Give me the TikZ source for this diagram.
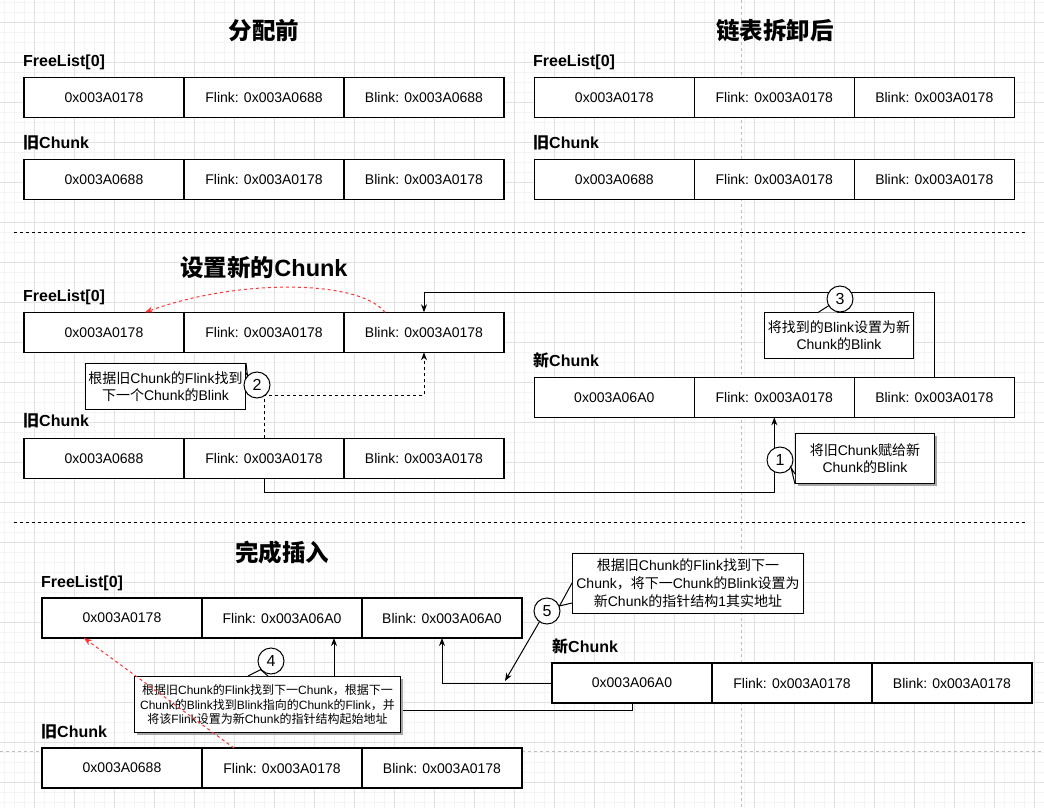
\documentclass[tikz,border=0pt]{standalone}
\usepackage{fontspec}
\setmainfont{Liberation Sans}
\newfontfamily\cjk{Noto Sans CJK SC}
\usetikzlibrary{arrows.meta,calc,shadows}
\newcommand\zh[1]{{\cjk #1}}
\definecolor{gridminor}{RGB}{244,244,244}
\definecolor{gridmajor}{RGB}{226,226,226}
\definecolor{pagebrk}{RGB}{190,190,190}
\definecolor{redline}{RGB}{255,51,51}
\tikzset{
  cell/.style={draw, line width=1.2pt, fill=white, minimum width=160pt, minimum height=40pt,
    inner sep=0pt, outer sep=0pt, font=\fontsize{14}{16}\selectfont},
  lbl/.style={anchor=west, inner sep=0pt, font=\fontsize{16}{18}\selectfont\bfseries},
  ttl/.style={inner sep=0pt, font=\fontsize{23.5}{26}\selectfont\bfseries},
  conn/.style={line width=1pt, -{Stealth[length=8pt,width=6pt]}},
  dconn/.style={conn, dash pattern=on 3pt off 3pt},
  rconn/.style={conn, draw=redline, dash pattern=on 3pt off 3pt},
  num/.style={circle, draw, line width=1pt, fill=white, minimum size=26pt, inner sep=0pt,
    font=\fontsize{16}{16}\selectfont},
  cbox/.style={draw, line width=1pt, fill=white, anchor=north west, inner sep=0pt,
    align=center, font=\fontsize{14}{17}\selectfont},
  cshadow/.style={drop shadow={shadow xshift=2.5pt, shadow yshift=-2.5pt, fill=gray!70, opacity=1}},
  tail/.style={line width=1pt, fill=white},
  sep/.style={line width=1pt, dash pattern=on 3pt off 3pt},
}
\newcommand\cellrow[6]{%
  \node[cell, anchor=north west] (#1a) at (#2,#3) {#4};
  \node[cell, anchor=west] (#1b) at (#1a.east) {#5};
  \node[cell, anchor=west] (#1c) at (#1b.east) {#6};
}
\begin{document}
\begin{tikzpicture}[x=1pt,y=-1pt]
\useasboundingbox[fill=white] (0,0) rectangle (1044,808);
% grid
\foreach \x in {4.3,14.3,...,1044} \draw[gridminor, line width=0.8pt] (\x,0) -- (\x,808);
\foreach \y in {2.7,12.7,...,808} \draw[gridminor, line width=0.8pt] (0,\y) -- (1044,\y);
\foreach \x in {34.3,74.3,...,1044} \draw[gridmajor, line width=0.8pt] (\x,0) -- (\x,808);
\foreach \y in {22.7,62.7,...,808} \draw[gridmajor, line width=0.8pt] (0,\y) -- (1044,\y);
% page break lines
\draw[pagebrk, line width=0.8pt, dash pattern=on 3pt off 3pt] (741,0) -- (741,808);
\draw[pagebrk, line width=0.8pt, dash pattern=on 3pt off 3pt] (0,751.7) -- (1044,751.7);
% separators
\coordinate (s1l) at (14,232); \coordinate (s1r) at (1026,232);
\coordinate (s2l) at (14,522); \coordinate (s2r) at (1026,522);
\draw[sep] (s1l) -- (s1r);
\draw[sep] (s2l) -- (s2r);

% ===== Section 1 =====
\node[ttl] (t1) at (264,31) {\zh{分配前}};
\node[ttl] (t2) at (775,31) {\zh{链表拆卸后}};
\node[lbl] (l1) at (23,62) {FreeList[0]};
\node[lbl] (l2) at (23,143) {\zh{旧}Chunk};
\node[lbl] (l3) at (533,62) {FreeList[0]};
\node[lbl] (l4) at (533,143) {\zh{旧}Chunk};
\cellrow{fa}{24}{77.3}{0x003A0178}{Flink: 0x003A0688}{Blink: 0x003A0688}
\cellrow{oa}{24}{159.3}{0x003A0688}{Flink: 0x003A0178}{Blink: 0x003A0178}
\cellrow{fb}{534.3}{77.3}{0x003A0178}{Flink: 0x003A0178}{Blink: 0x003A0178}
\cellrow{ob}{534.3}{159.3}{0x003A0688}{Flink: 0x003A0178}{Blink: 0x003A0178}

% ===== Section 2 =====
\node[ttl] (t3) at (264,267) {\zh{设置新的}Chunk};
\node[lbl] (l5) at (23,297) {FreeList[0]};
\node[lbl] (l6) at (23,421) {\zh{旧}Chunk};
\node[lbl] (l7) at (533,360) {\zh{新}Chunk};
\cellrow{fc}{24}{312.3}{0x003A0178}{Flink: 0x003A0178}{Blink: 0x003A0178}
\cellrow{oc}{24}{438.3}{0x003A0688}{Flink: 0x003A0178}{Blink: 0x003A0178}
\cellrow{nc}{534.3}{377.3}{0x003A06A0}{Flink: 0x003A0178}{Blink: 0x003A0178}

\draw[conn] (ocb.south) -- ++(0,14) -| (ncb.south);
\draw[dconn] (ocb.north) -- ++(0,-43) -| (fcc.south);
\draw[conn] (ncc.north) -- ++(0,-85) -| (fcc.north);
\draw[rconn] ([xshift=-39pt]fcc.north) .. controls (360,280) and (240,278) .. ([xshift=41pt]fca.north);

% callout 2
\node[cbox, minimum width=160pt, minimum height=46pt] (b2) at (85,363)
  {\zh{根据旧}Chunk\zh{的}Flink\zh{找到}\\\zh{下一个}Chunk\zh{的}Blink};
\node[num] (c2) at (257,385) {2};
\coordinate (b2t) at ($(b2.north east)+(0,10)$);
\filldraw[tail] (b2.north east) -- (c2.135) -- (b2t);
% callout 1
\node[cbox, cshadow, minimum width=139pt, minimum height=50pt] (b1) at (795,433)
  {\zh{将旧}Chunk\zh{赋给新}\\Chunk\zh{的}Blink};
\node[num] (c1) at (780,460) {1};
\coordinate (b1t) at ($(b1.south west)+(0,-10)$);
\filldraw[tail] (b1t) -- (c1.-35) -- (b1.south west);
% callout 3
\node[cbox, minimum width=149pt, minimum height=46pt] (b3) at (764,312)
  {\zh{将找到的}Blink\zh{设置为新}\\Chunk\zh{的}Blink};
\coordinate (b3a) at (818,312.5);
\coordinate (b3tip) at (829,305.5);
\coordinate (b3b) at (838,312.5);
\filldraw[tail] (b3a) -- (b3tip) -- (b3b);
\node[num] (c3) at (840,299) {3};

% ===== Section 3 =====
\node[ttl] (t4) at (282,553) {\zh{完成插入}};
\node[lbl] (l8) at (41,583) {FreeList[0]};
\node[lbl] (l9) at (41,732) {\zh{旧}Chunk};
\node[lbl] (l10) at (552,646) {\zh{新}Chunk};
\cellrow{fd}{42}{598}{0x003A0178}{Flink: 0x003A06A0}{Blink: 0x003A06A0}
\cellrow{od}{42}{748}{0x003A0688}{Flink: 0x003A0178}{Blink: 0x003A0178}
\cellrow{nd}{552}{663}{0x003A06A0}{Flink: 0x003A0178}{Blink: 0x003A0178}

\draw[conn] (nda.south) -- ++(0,7) -| ([xshift=52pt]fdb.south);
\draw[conn] (nda.west) -| (fdc.south);

% callout 4
\node[cbox, cshadow, minimum width=266pt, minimum height=56pt, font=\fontsize{12}{14.5}\selectfont] (b4) at (134,676)
  {\zh{根据旧}Chunk\zh{的}Flink\zh{找到下一}Chunk\zh{，根据下一}\\Chunk\zh{的}Blink\zh{找到}Blink\zh{指向的}Chunk\zh{的}Flink\zh{，并}\\\zh{将该}Flink\zh{设置为新}Chunk\zh{的指针结构起始地址}};
\node[num] (c4) at (271,661) {4};
\coordinate (b4a) at (248,676);
\coordinate (b4b) at (268,676);
\filldraw[tail] (b4a) -- (c4.-140) -- (b4b);
% callout 5
\node[cbox, minimum width=231pt, minimum height=60pt, font=\fontsize{14}{18}\selectfont] (b5) at (572,553)
  {\zh{根据旧}Chunk\zh{的}Flink\zh{找到下一}\\Chunk\zh{，将下一}Chunk\zh{的}Blink\zh{设置为}\\\zh{新}Chunk\zh{的指针结构}1\zh{其实地址}};
\node[num] (c5) at (547,611) {5};
\coordinate (b5a) at (572,583);
\coordinate (b5b) at (572,603);
\filldraw[tail] (b5a) -- (c5.22) -- (b5b);
\coordinate (p5) at (505,681);
\draw[conn] (c5.-125) -- (p5);

\draw[rconn] ([xshift=-48pt]odb.north) -- ([xshift=-38pt]fda.south);
\end{tikzpicture}
\end{document}
